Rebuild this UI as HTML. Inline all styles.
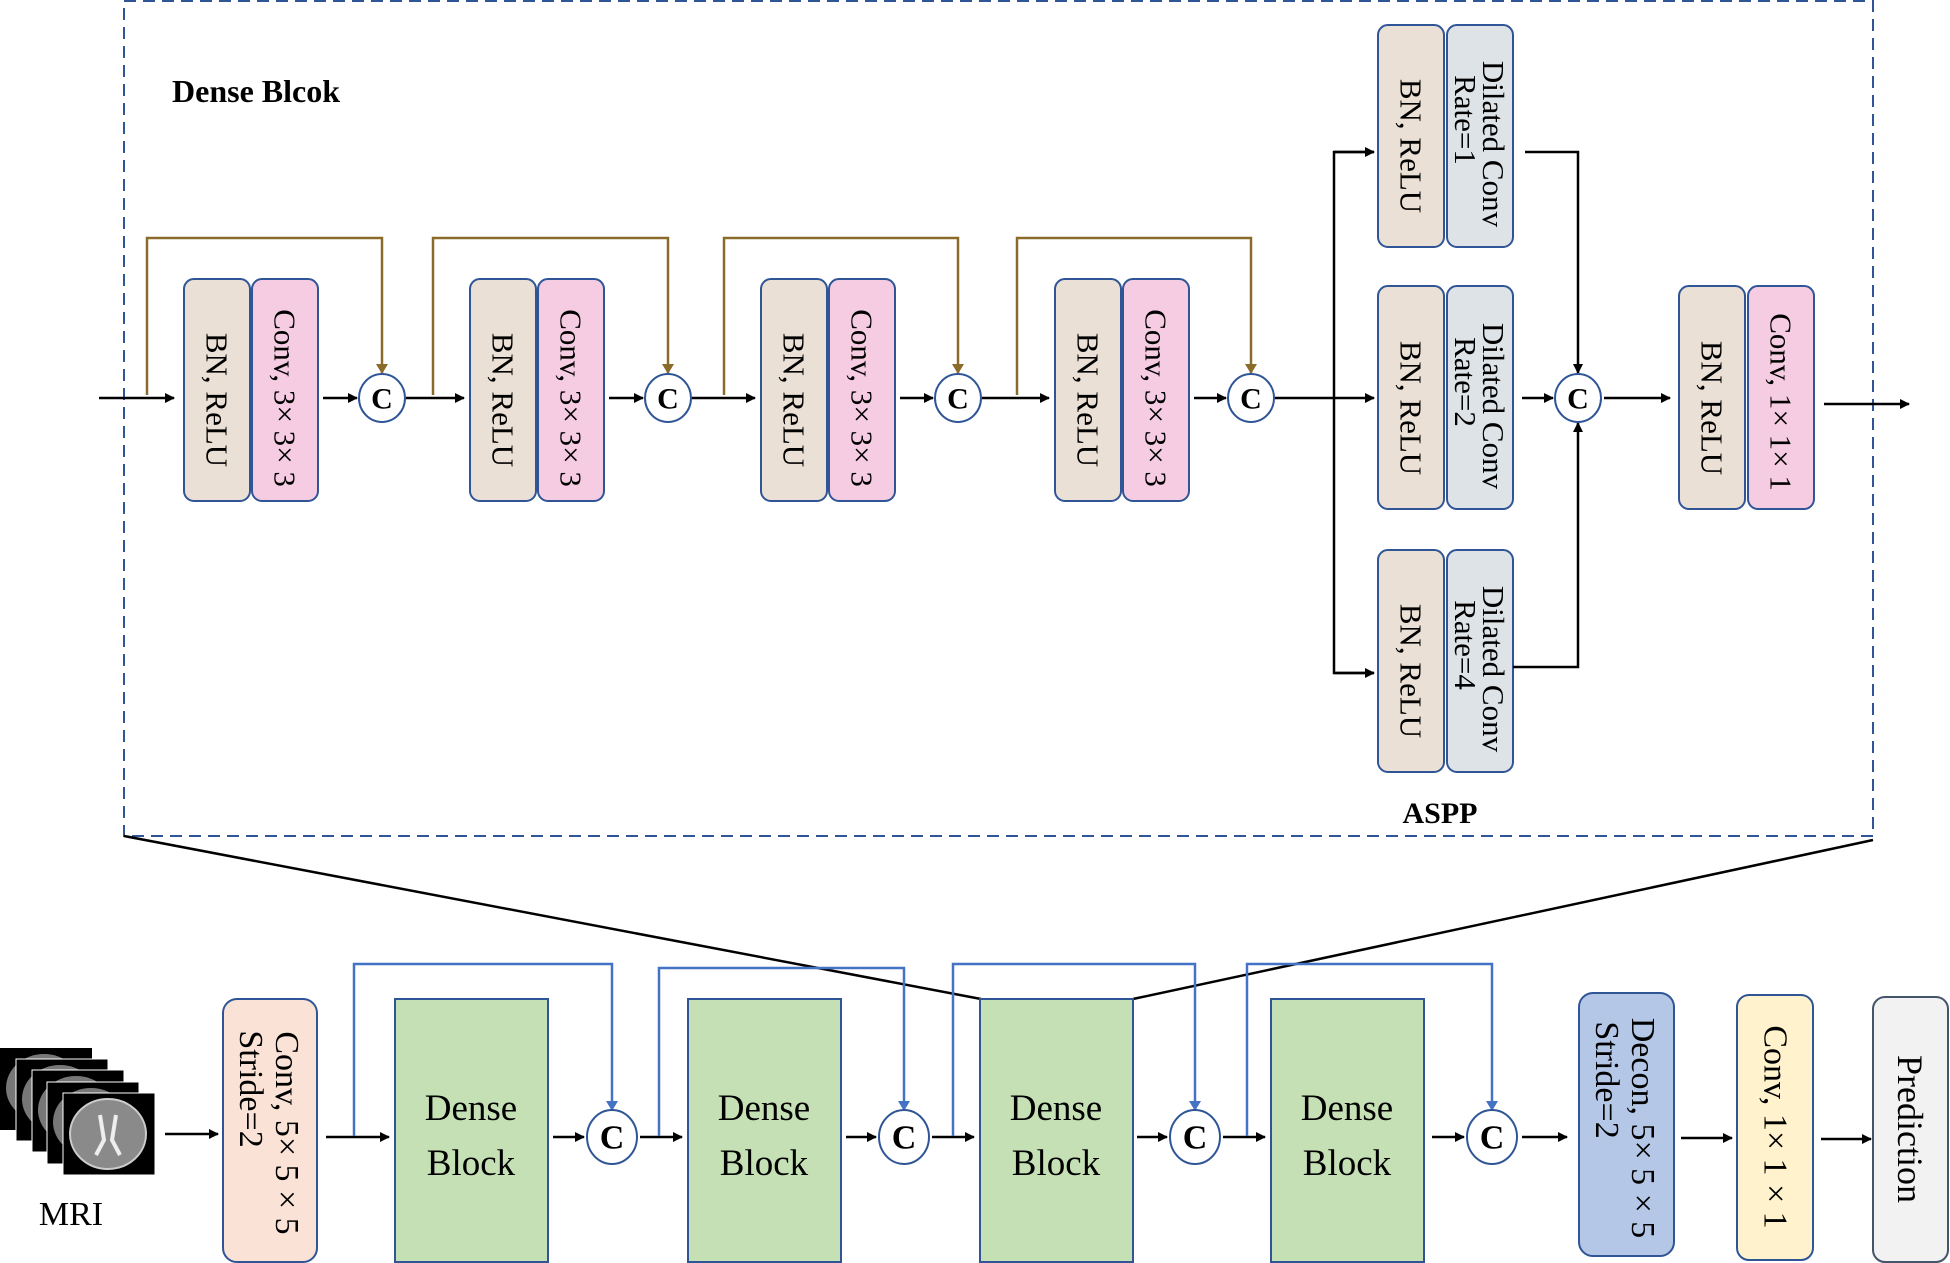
<!DOCTYPE html>
<html><head><meta charset="utf-8"><style>
html,body{margin:0;padding:0;background:#fff;}
svg{display:block;}
text{font-family:"Liberation Serif",serif;fill:#000;}
</style></head><body>
<svg width="1950" height="1263" viewBox="0 0 1950 1263" xmlns="http://www.w3.org/2000/svg">
<defs>
<marker id="ak" markerWidth="10" markerHeight="10" refX="9" refY="5" orient="auto" markerUnits="userSpaceOnUse"><path d="M0,0 L10,5 L0,10 z" fill="#000"/></marker>
<marker id="ab" markerWidth="10" markerHeight="12" refX="9" refY="6" orient="auto" markerUnits="userSpaceOnUse"><path d="M0,0 L10,6 L0,12 z" fill="#8B6B2A"/></marker>
<marker id="au" markerWidth="10" markerHeight="12" refX="9" refY="6" orient="auto" markerUnits="userSpaceOnUse"><path d="M0,0 L10,6 L0,12 z" fill="#4472C4"/></marker>
</defs>

<rect x="124" y="1" width="1749" height="835" fill="none" stroke="#2F5597" stroke-width="2" stroke-dasharray="12,7"/>
<text x="172" y="102" font-size="32" font-weight="bold">Dense Blcok</text>

<line x1="124" y1="836" x2="981" y2="999" stroke="#000" stroke-width="2.5"/>
<line x1="1873" y1="840" x2="1133" y2="999" stroke="#000" stroke-width="2.5"/>

<g stroke="#2F5597" stroke-width="2">
<rect x="184" y="279" width="66" height="222" rx="10" fill="#EBE0D6"/>
<rect x="252" y="279" width="66" height="222" rx="10" fill="#F5CCE2"/>
<rect x="470" y="279" width="66" height="222" rx="10" fill="#EBE0D6"/>
<rect x="538" y="279" width="66" height="222" rx="10" fill="#F5CCE2"/>
<rect x="761" y="279" width="66" height="222" rx="10" fill="#EBE0D6"/>
<rect x="829" y="279" width="66" height="222" rx="10" fill="#F5CCE2"/>
<rect x="1055" y="279" width="66" height="222" rx="10" fill="#EBE0D6"/>
<rect x="1123" y="279" width="66" height="222" rx="10" fill="#F5CCE2"/>
<rect x="1378" y="25" width="66" height="222" rx="10" fill="#EBE0D6"/>
<rect x="1447" y="25" width="66" height="222" rx="10" fill="#DEE3E7"/>
<rect x="1378" y="286" width="66" height="223" rx="10" fill="#EBE0D6"/>
<rect x="1447" y="286" width="66" height="223" rx="10" fill="#DEE3E7"/>
<rect x="1378" y="550" width="66" height="222" rx="10" fill="#EBE0D6"/>
<rect x="1447" y="550" width="66" height="222" rx="10" fill="#DEE3E7"/>
<rect x="1679" y="286" width="66" height="223" rx="10" fill="#EBE0D6"/>
<rect x="1748" y="286" width="66" height="223" rx="10" fill="#F5CCE2"/>
</g>
<g font-size="31" text-anchor="middle" dominant-baseline="central">
<text transform="translate(217,400) rotate(90)">BN, ReLU</text>
<text transform="translate(285,398) rotate(90)">Conv, 3× 3× 3</text>
<text transform="translate(503,400) rotate(90)">BN, ReLU</text>
<text transform="translate(571,398) rotate(90)">Conv, 3× 3× 3</text>
<text transform="translate(794,400) rotate(90)">BN, ReLU</text>
<text transform="translate(862,398) rotate(90)">Conv, 3× 3× 3</text>
<text transform="translate(1088,400) rotate(90)">BN, ReLU</text>
<text transform="translate(1156,398) rotate(90)">Conv, 3× 3× 3</text>
<text transform="translate(1411,146) rotate(90)">BN, ReLU</text>
<text transform="translate(1411,408) rotate(90)">BN, ReLU</text>
<text transform="translate(1411,671) rotate(90)">BN, ReLU</text>
<text transform="translate(1712,408) rotate(90)">BN, ReLU</text>
<text transform="translate(1781,402) rotate(90)">Conv, 1× 1× 1</text>
<text transform="translate(1480,144) rotate(90)"><tspan x="0" y="-14">Dilated Conv</tspan><tspan x="-24" y="14">Rate=1</tspan></text>
<text transform="translate(1480,406) rotate(90)"><tspan x="0" y="-14">Dilated Conv</tspan><tspan x="-24" y="14">Rate=2</tspan></text>
<text transform="translate(1480,669) rotate(90)"><tspan x="0" y="-14">Dilated Conv</tspan><tspan x="-24" y="14">Rate=4</tspan></text>
</g>
<text x="1440" y="823" font-size="30" font-weight="bold" text-anchor="middle">ASPP</text>

<g stroke="#000" stroke-width="2.5" fill="none">
<line x1="99" y1="398" x2="174" y2="398" marker-end="url(#ak)"/>
<line x1="323" y1="398" x2="357" y2="398" marker-end="url(#ak)"/>
<line x1="406" y1="398" x2="464" y2="398" marker-end="url(#ak)"/>
<line x1="609" y1="398" x2="643" y2="398" marker-end="url(#ak)"/>
<line x1="692" y1="398" x2="755" y2="398" marker-end="url(#ak)"/>
<line x1="900" y1="398" x2="933" y2="398" marker-end="url(#ak)"/>
<line x1="982" y1="398" x2="1049" y2="398" marker-end="url(#ak)"/>
<line x1="1194" y1="398" x2="1226" y2="398" marker-end="url(#ak)"/>
<line x1="1275" y1="398" x2="1374" y2="398" marker-end="url(#ak)"/>
<polyline points="1374,152 1334,152 1334,673 1374,673"/>
<line x1="1334" y1="152" x2="1374" y2="152" marker-end="url(#ak)"/>
<line x1="1334" y1="673" x2="1374" y2="673" marker-end="url(#ak)"/>
<polyline points="1525,152 1578,152 1578,373" marker-end="url(#ak)"/>
<line x1="1522" y1="398" x2="1553" y2="398" marker-end="url(#ak)"/>
<polyline points="1513,667 1578,667 1578,423" marker-end="url(#ak)"/>
<line x1="1604" y1="398" x2="1670" y2="398" marker-end="url(#ak)"/>
<line x1="1824" y1="404" x2="1909" y2="404" marker-end="url(#ak)"/>
</g>
<g stroke="#8B6B2A" stroke-width="2.5" fill="none">
<polyline points="147,395 147,238 382,238 382,373" marker-end="url(#ab)"/>
<polyline points="433,395 433,238 668,238 668,373" marker-end="url(#ab)"/>
<polyline points="724,395 724,238 958,238 958,373" marker-end="url(#ab)"/>
<polyline points="1017,395 1017,238 1251,238 1251,373" marker-end="url(#ab)"/>
</g>
<g stroke="#2F5597" stroke-width="2" fill="#fff">
<ellipse cx="382" cy="398" rx="23" ry="24"/>
<ellipse cx="668" cy="398" rx="23" ry="24"/>
<ellipse cx="958" cy="398" rx="23" ry="24"/>
<ellipse cx="1251" cy="398" rx="23" ry="24"/>
<ellipse cx="1578" cy="398" rx="23" ry="24"/>
</g>
<g font-size="30" font-weight="bold" text-anchor="middle" dominant-baseline="central">
<text x="382" y="399">C</text><text x="668" y="399">C</text><text x="958" y="399">C</text><text x="1251" y="399">C</text><text x="1578" y="399">C</text>
</g>

<g>
<rect x="0" y="1048" width="92" height="82" fill="#000"/><ellipse cx="44" cy="1088" rx="38" ry="34" fill="#777"/>
<rect x="16" y="1059" width="92" height="82" fill="#000" stroke="#fff" stroke-width="1"/><ellipse cx="60" cy="1099" rx="38" ry="34" fill="#777"/>
<rect x="32" y="1070" width="92" height="82" fill="#000" stroke="#fff" stroke-width="1"/><ellipse cx="76" cy="1110" rx="38" ry="34" fill="#777"/>
<rect x="47" y="1082" width="92" height="82" fill="#000" stroke="#fff" stroke-width="1"/><ellipse cx="91" cy="1122" rx="38" ry="34" fill="#777"/>
<rect x="63" y="1093" width="92" height="82" fill="#000" stroke="#fff" stroke-width="1"/><ellipse cx="108" cy="1134" rx="38" ry="35" fill="#8a8a8a" stroke="#ccc" stroke-width="2"/>
<path d="M100,1115 L104,1140 L96,1155 M116,1115 L112,1140 L120,1155" stroke="#eee" stroke-width="4" fill="none"/>
</g>
<text x="71" y="1225" font-size="34" text-anchor="middle">MRI</text>

<g stroke="#2F5597" stroke-width="2">
<rect x="223" y="999" width="94" height="263" rx="14" fill="#FAE3D6"/>
<rect x="395" y="999" width="153" height="263" fill="#C5E0B4"/>
<rect x="688" y="999" width="153" height="263" fill="#C5E0B4"/>
<rect x="980" y="999" width="153" height="263" fill="#C5E0B4"/>
<rect x="1271" y="999" width="153" height="263" fill="#C5E0B4"/>
<rect x="1579" y="993" width="95" height="263" rx="14" fill="#B4C7E7"/>
<rect x="1737" y="995" width="76" height="265" rx="12" fill="#FFF2CC"/>
<rect x="1873" y="997" width="75" height="265" rx="12" fill="#F2F2F2" stroke="#44546A"/>
</g>
<g font-size="37" text-anchor="middle">
<text x="471" y="1120">Dense</text><text x="471" y="1175">Block</text>
<text x="764" y="1120">Dense</text><text x="764" y="1175">Block</text>
<text x="1056" y="1120">Dense</text><text x="1056" y="1175">Block</text>
<text x="1347" y="1120">Dense</text><text x="1347" y="1175">Block</text>
</g>
<g font-size="34" text-anchor="middle" dominant-baseline="central">
<text transform="translate(270,1133) rotate(90)"><tspan x="0" y="-17">Conv, 5× 5 × 5</tspan><tspan x="-44" y="19">Stride=2</tspan></text>
<text transform="translate(1626,1128) rotate(90)"><tspan x="0" y="-17">Decon, 5× 5 × 5</tspan><tspan x="-48" y="19">Stride=2</tspan></text>
<text transform="translate(1775,1127) rotate(90)">Conv, 1× 1 × 1</text>
<text font-size="36" transform="translate(1910,1129) rotate(90)">Prediction</text>
</g>

<g stroke="#000" stroke-width="2.5" fill="none">
<line x1="165" y1="1134" x2="218" y2="1134" marker-end="url(#ak)"/>
<line x1="326" y1="1137" x2="389" y2="1137" marker-end="url(#ak)"/>
<line x1="553" y1="1137" x2="584" y2="1137" marker-end="url(#ak)"/>
<line x1="640" y1="1137" x2="682" y2="1137" marker-end="url(#ak)"/>
<line x1="846" y1="1137" x2="876" y2="1137" marker-end="url(#ak)"/>
<line x1="932" y1="1137" x2="974" y2="1137" marker-end="url(#ak)"/>
<line x1="1137" y1="1137" x2="1167" y2="1137" marker-end="url(#ak)"/>
<line x1="1223" y1="1137" x2="1265" y2="1137" marker-end="url(#ak)"/>
<line x1="1432" y1="1137" x2="1464" y2="1137" marker-end="url(#ak)"/>
<line x1="1522" y1="1137" x2="1567" y2="1137" marker-end="url(#ak)"/>
<line x1="1681" y1="1138" x2="1732" y2="1138" marker-end="url(#ak)"/>
<line x1="1821" y1="1139" x2="1871" y2="1139" marker-end="url(#ak)"/>
</g>
<g stroke="#4472C4" stroke-width="2.5" fill="none">
<polyline points="354,1136 354,964 612,964 612,1110" marker-end="url(#au)"/>
<polyline points="659,1136 659,968 904,968 904,1110" marker-end="url(#au)"/>
<polyline points="953,1136 953,964 1195,964 1195,1110" marker-end="url(#au)"/>
<polyline points="1247,1136 1247,964 1492,964 1492,1110" marker-end="url(#au)"/>
</g>
<g stroke="#2F5597" stroke-width="2" fill="#fff">
<ellipse cx="612" cy="1137" rx="25" ry="27"/>
<ellipse cx="904" cy="1137" rx="25" ry="27"/>
<ellipse cx="1195" cy="1137" rx="25" ry="27"/>
<ellipse cx="1492" cy="1137" rx="25" ry="27"/>
</g>
<g font-size="34" font-weight="bold" text-anchor="middle" dominant-baseline="central">
<text x="612" y="1138">C</text><text x="904" y="1138">C</text><text x="1195" y="1138">C</text><text x="1492" y="1138">C</text>
</g>
</svg>
</body></html>
